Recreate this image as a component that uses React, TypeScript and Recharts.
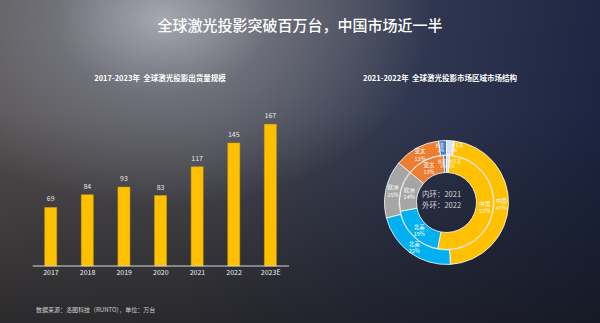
import React from 'react';
import { BarChart, Bar, XAxis, YAxis, LabelList, PieChart, Pie, Cell } from 'recharts';

const years = ['2017', '2018', '2019', '2020', '2021', '2022', '2023E'];
const shipments = [69, 84, 93, 83, 117, 145, 167];

const regions = ['中国', '北美', '欧洲', '亚太', '拉美', '中东非'];
const share2021 = [52, 19, 14, 13, 1, 1];
const share2022 = [47, 22, 15, 12, 2, 2];
const regionColors = ['#FFC000', '#00B0F0', '#A5A5A5', '#ED7D31', '#4A7FC6', '#D9E2F0'];

const barData = years.map((y, i) => ({ year: y, value: shipments[i] }));
const inner = regions.map((r, i) => ({ name: r, value: share2021[i] }));
const outer = regions.map((r, i) => ({ name: r, value: share2022[i] }));

const FONT = '"Noto Sans CJK SC", "Noto Sans", sans-serif';
const RAD = Math.PI / 180;

const sliceLabel = (props: any) => {
  const { cx, cy, midAngle, innerRadius, outerRadius, name, value, index } = props;
  const r = (innerRadius + outerRadius) / 2;
  const x = cx + r * Math.cos(-midAngle * RAD);
  const y = cy + r * Math.sin(-midAngle * RAD);
  const small = value < 3;
  let anchor: 'middle' | 'start' | 'end' = 'middle';
  let tx = x;
  if (small) {
    anchor = index === 4 ? 'end' : 'start';
    tx = x + 1;
  }
  const fs = small ? 4.2 : 5.5;
  const gap = small ? 5.2 : 7.2;
  return (
    <g>
      <text x={tx} y={y - 1.2} textAnchor={anchor} fill="#ffffff" fontSize={fs} fontFamily={FONT}>
        {name}
      </text>
      <text x={tx} y={y - 1.2 + gap} textAnchor={anchor} fill="#ffffff" fontSize={fs} fontFamily={FONT}>
        {`${value}%`}
      </text>
    </g>
  );
};

export default function App() {
  return (
    <div
      style={{
        position: 'absolute',
        left: 0,
        top: 0,
        width: 600,
        height: 323,
        overflow: 'hidden',
        fontFamily: FONT,
        background:
          'radial-gradient(ellipse 45% 58% at 27% 6%, rgba(170,173,182,0.95) 0%, rgba(132,135,147,0.6) 40%, rgba(100,100,110,0) 100%),' +
          'linear-gradient(to bottom, rgba(0,0,0,0) 35%, rgba(22,22,24,0.65) 100%),' +
          'linear-gradient(100deg, #55504f 0%, #4d4c53 35%, #303750 65%, #18213f 100%)',
      }}
    >
      <div
        style={{
          position: 'absolute',
          left: 0,
          top: 14,
          width: 600,
          textAlign: 'center',
          color: '#ffffff',
          fontSize: 15,
          fontWeight: 500,
          lineHeight: '22px',
        }}
      >
        全球激光投影突破百万台，中国市场近一半
      </div>
      <div
        style={{
          position: 'absolute',
          left: 60,
          top: 72,
          width: 200,
          textAlign: 'center',
          color: '#ffffff',
          fontSize: 7.5,
          fontWeight: 700,
          lineHeight: '12px',
        }}
      >
        2017-2023年&nbsp;&nbsp;全球激光投影出货量规模
      </div>
      <div
        style={{
          position: 'absolute',
          left: 340,
          top: 72,
          width: 200,
          textAlign: 'center',
          color: '#ffffff',
          fontSize: 7.5,
          fontWeight: 700,
          lineHeight: '12px',
        }}
      >
        2021-2022年&nbsp;&nbsp;全球激光投影市场区域市场结构
      </div>
      <div
        style={{
          position: 'absolute',
          left: 36,
          top: 306,
          color: '#d0d0d0',
          fontSize: 6,
          lineHeight: '8px',
        }}
      >
        数据来源：洛图科技（RUNTO），单位：万台
      </div>

      <div style={{ position: 'absolute', left: 0, top: 0 }}>
        <BarChart
          width={300}
          height={323}
          data={barData}
          margin={{ top: 96.3, right: 11, left: 32.7, bottom: 0 }}
        >
          <XAxis
            dataKey="year"
            height={57}
            axisLine={{ stroke: '#d9d9d9', strokeWidth: 1 }}
            tickLine={false}
            tickSize={2}
            tickMargin={2}
            tick={{ fill: '#f0f0f0', fontSize: 7, fontFamily: FONT }}
            interval={0}
          />
          <YAxis hide width={0} domain={[0, 200]} />
          <Bar dataKey="value" fill="#FFC000" stroke="#E0A800" strokeWidth={0.5} barSize={12} isAnimationActive={false}>
            <LabelList dataKey="value" position="top" offset={6} fill="#e6e6e6" fontSize={7} fontFamily={FONT} />
          </Bar>
        </BarChart>
      </div>

      <div style={{ position: 'absolute', left: 300, top: 0 }}>
        <PieChart width={300} height={323}>
          <Pie
            data={inner}
            dataKey="value"
            nameKey="name"
            cx={141.5}
            cy={197.5}
            innerRadius={30}
            outerRadius={47}
            startAngle={90 - 3.6}
            endAngle={90 - 3.6 - 360}
            stroke="#ffffff"
            strokeWidth={0.8}
            label={sliceLabel}
            labelLine={false}
            isAnimationActive={false}
          >
            {inner.map((d, i) => (
              <Cell key={d.name} fill={regionColors[i]} />
            ))}
          </Pie>
          <Pie
            data={outer}
            dataKey="value"
            nameKey="name"
            cx={141.5}
            cy={197.5}
            innerRadius={47.5}
            outerRadius={62}
            startAngle={90 - 7.2}
            endAngle={90 - 7.2 - 360}
            stroke="#ffffff"
            strokeWidth={0.8}
            label={sliceLabel}
            labelLine={false}
            isAnimationActive={false}
          >
            {outer.map((d, i) => (
              <Cell key={d.name} fill={regionColors[i]} />
            ))}
          </Pie>
          <text x={141.5} y={197} textAnchor="middle" fill="#d6d6d6" fontSize={7.5} fontFamily={FONT}>
            内环：2021
          </text>
          <text x={141.5} y={208} textAnchor="middle" fill="#d6d6d6" fontSize={7.5} fontFamily={FONT}>
            外环：2022
          </text>
        </PieChart>
      </div>
    </div>
  );
}
